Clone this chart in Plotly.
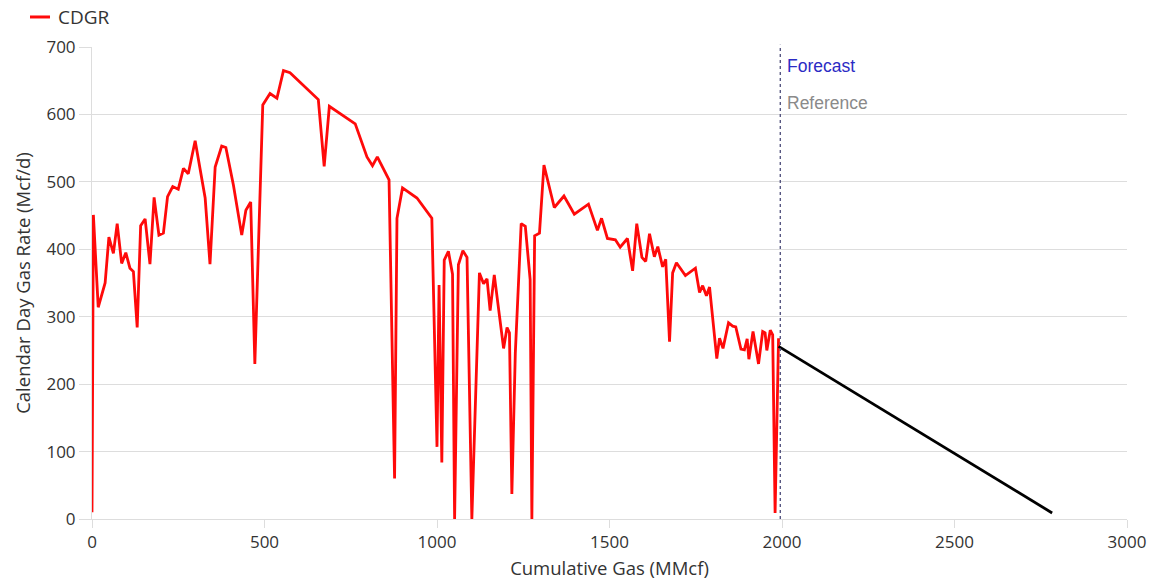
import plotly.graph_objects as go

cum_gas = [0, 4, 18, 38, 49, 62, 73, 86, 98, 110, 120, 131, 141, 154, 168, 180, 194, 207, 219, 234,
           250, 265, 279, 299, 328, 342, 357, 376, 388, 410, 434, 446, 460, 472, 495, 516, 536, 555,
           574, 656, 673, 688, 763, 797, 813, 827, 861, 877, 884, 900, 942, 985, 1000, 1006, 1014,
           1021, 1033, 1045, 1051, 1062, 1075, 1087, 1101, 1123, 1135, 1145, 1154, 1166, 1193, 1203,
           1210, 1217, 1227, 1244, 1256, 1270, 1275, 1283, 1297, 1310, 1340, 1368, 1398, 1439, 1465,
           1477, 1494, 1517, 1531, 1552, 1567, 1579, 1594, 1605, 1616, 1630, 1640, 1654, 1663, 1674,
           1683, 1694, 1720, 1749, 1761, 1770, 1781, 1790, 1811, 1819, 1829, 1845, 1857, 1866, 1881,
           1891, 1899, 1904, 1916, 1932, 1944, 1951, 1956, 1966, 1973, 1980, 1990]
cdgr = [10, 451, 314, 350, 418, 394, 438, 379, 395, 372, 367, 284, 435, 445, 378, 477, 421, 424, 478, 493,
        489, 520, 512, 561, 476, 378, 522, 553, 551, 495, 421, 458, 470, 230, 614, 631, 624, 665,
        662, 622, 523, 612, 586, 537, 524, 537, 503, 60, 446, 491, 476, 446, 107, 347, 84,
        384, 397, 363, 0, 377, 398, 388, 0, 365, 349, 356, 309, 362, 253, 284,
        276, 37, 246, 438, 434, 355, 0, 420, 424, 525, 462, 479, 452, 467, 428,
        446, 416, 414, 403, 416, 368, 438, 388, 382, 423, 389, 404, 374, 385, 263,
        365, 380, 361, 372, 336, 346, 331, 344, 238, 268, 253, 291, 286, 285, 252,
        251, 267, 237, 278, 230, 278, 276, 250, 280, 273, 9, 268]

forecast_x = [1990, 2783]
forecast_y = [256, 9]

forecast_start = 1995
x_ticks = [0, 500, 1000, 1500, 2000, 2500, 3000]
y_ticks = [0, 100, 200, 300, 400, 500, 600, 700]

FONT = "Open Sans"
RED = "#ff0a0a"
fig = go.Figure()
fig.add_trace(go.Scatter(x=cum_gas, y=cdgr, mode="lines", name="CDGR", showlegend=False,
                         line=dict(color=RED, width=2.8)))
fig.add_trace(go.Scatter(x=forecast_x, y=forecast_y, mode="lines", name="Forecast",
                         showlegend=False, line=dict(color="#000000", width=2.8)))

# vertical forecast-start marker
fig.add_shape(type="line", x0=forecast_start, x1=forecast_start, y0=0, y1=1.005,
              xref="x", yref="paper", line=dict(color="#4b4b7a", width=1.3, dash="3px,3px"))
fig.add_annotation(x=forecast_start, y=672, xref="x", yref="y", text="Forecast",
                   showarrow=False, xanchor="left", xshift=5,
                   font=dict(family="Liberation Sans, Arial", size=17.5, color="#2b2bc4"))
fig.add_annotation(x=forecast_start, y=617, xref="x", yref="y", text="Reference",
                   showarrow=False, xanchor="left", xshift=5,
                   font=dict(family="Liberation Sans, Arial", size=17.5, color="#8a8a8a"))

# legend (drawn manually so it does not push the plot margins)
fig.add_shape(type="line", x0=-0.0599, x1=-0.0406, y0=1.0636, y1=1.0636,
              xref="paper", yref="paper", line=dict(color=RED, width=3))
fig.add_annotation(x=-0.0348, y=1.0636, xref="paper", yref="paper", text="CDGR",
                   showarrow=False, xanchor="left", yanchor="middle",
                   font=dict(family=FONT, size=19, color="#333333"))

# the page body has an 8px margin, so the figure is 8px smaller and margins shifted
fig.update_layout(
    width=1161, height=572,
    margin=dict(l=84, r=42, t=39, b=61, autoexpand=False),
    plot_bgcolor="white", paper_bgcolor="white",
    font=dict(family=FONT, size=17, color="#333333"),
    showlegend=False,
    xaxis=dict(range=[0, 3000], tickvals=x_ticks, showgrid=False, zeroline=False,
               showline=True, linecolor="#dddddd", ticks="outside", ticklen=8,
               tickcolor="#dddddd", automargin=False,
               title=dict(text="Cumulative Gas (MMcf)", font=dict(size=18.5), standoff=9)),
    yaxis=dict(range=[0, 700], tickvals=y_ticks, showgrid=True, gridcolor="#dddddd",
               zeroline=False, showline=True, linecolor="#dddddd", ticks="outside",
               ticklen=12, tickcolor="#dddddd", automargin=False,
               title=dict(text="Calendar Day Gas Rate (Mcf/d)", font=dict(size=18.5), standoff=10)),
)
fig.write_html("out.html")
